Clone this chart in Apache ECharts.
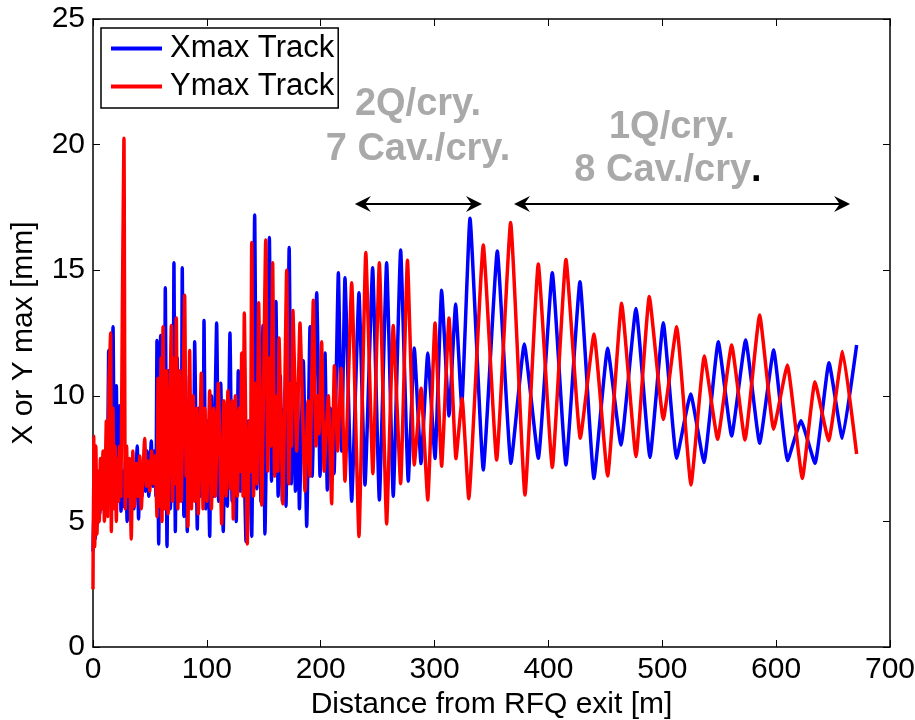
<!DOCTYPE html>
<html>
<head>
<meta charset="utf-8">
<script src="https://cdn.jsdelivr.net/npm/echarts@6/dist/echarts.min.js"></script>
<style>
  html, body { margin: 0; padding: 0; background: #fff; }
  #chart { width: 915px; height: 720px; }
</style>
</head>
<body>
<div id="chart"></div>
<script>
// x / y ticks
const xTicks = [0, 100, 200, 300, 400, 500, 600, 700];
const yTicks = [0, 5, 10, 15, 20, 25];

// [distance (m), Xmax (mm)]
const xmaxTrack = [
  [0,3.8],[1,6.2],[2,4.3],[3,6.6],[4,4.9],[5,6.0],[6,5.3],[7,6.8],[8,5.5],[9,7.4],[10,5.9],[11,7.0],
  [12.5,6.3],[13.8,11.8],[15,6.5],[16.2,9.5],[17.6,12.75],[18.8,6.0],[20.5,10.4],[21.7,5.8],[23.4,9.6],
  [24.6,5.4],[26,7.0],[27.2,5.6],[28.5,7.4],[30,5.0],[31.5,7.2],[33,5.8],[34.5,7.3],[36,5.5],[38.9,8.0],
  [40,5.1],[41.5,7.2],[43,6.0],[44.5,7.6],[46,6.2],[47.5,7.8],[49,6.0],[51.2,8.2],[52.5,6.4],[54,7.8],
  [55.3,6.0],[56.2,12.2],[57.7,4.1],[59.4,12.4],[60.5,5.5],[62,10.5],[62.8,7.0],[63.5,14.3],[65,4.0],
  [66.5,11.0],[68,5.5],[69.5,9.0],[70.3,7.0],[71.1,15.3],[72.3,4.6],[74,11.5],[75.5,5.8],[77,9.5],
  [77.7,7.5],[78.4,15.1],[79.8,5.2],[81.3,10.8],[82.8,4.6],[84.3,9.8],[85.8,5.6],[87.5,8.8],[88.4,7.0],
  [89.3,12.15],[91.6,4.7],[93,9.5],[94.5,6.0],[96,8.5],[96.8,7.2],[97.5,13.0],[99,5.5],[100.5,9.0],
  [102.5,4.4],[104,10.0],[105.8,6.0],[108.6,12.9],[110.4,5.8],[112.2,10.5],[114.4,4.6],[116.2,9.5],
  [118,5.6],[120.3,12.5],[122.2,5.8],[124,9.2],[125.8,5.0],[127.6,11.0],[129.4,6.2],[131.2,10.6],
  [134.4,4.2],[136.5,9.0],[139.4,4.4],[142,17.2],[143.8,6.3],[145.8,10.8],[147.5,5.8],[149.3,12.8],
  [151,4.5],[154.9,16.3],[156.8,6.6],[158.5,10.2],[159.5,8.0],[160.7,13.75],[162.6,6.0],[164.5,10.8],
  [166.3,5.8],[168,9.5],[169.5,5.6],[172.3,15.9],[174.2,6.5],[176,11.5],[177.8,6.2],[179.6,10.5],
  [181.3,5.5],[184.7,11.4],[187.7,4.8],[190.6,12.75],[192.5,6.8],[196.5,14.1],[199.4,6.8],[201.5,10.0],
  [202.6,8.0],[203.8,11.7],[205.8,6.25],[208.5,9.5],[211.7,6.9],[215.5,14.9],[218.4,7.8],[221.3,14.7],
  [227.2,5.8],[233.6,14.1],[238.9,6.45],[245.6,15.1],[251.5,5.85],[257.9,15.3],[263.7,6.0],[270.2,15.8],
  [276.9,6.6],[282.2,11.9],[288.1,7.3],[294,11.7],[300.4,7.5],[306.2,14.2],[312.7,9.2],[318.5,13.65],
  [323.8,9.6],[331.1,17.07],[342.8,7.05],[355.1,15.76],[367.1,7.31],[378.8,12.06],[391.1,7.51],
  [403.4,14.9],[415.4,7.25],[427.7,14.54],[440,6.71],[452,11.89],[463.7,8.04],[476.9,13.48],[489.2,7.54],
  [500.9,12.91],[512.6,7.51],[524.9,10.07],[536.6,7.34],[549.2,12.15],[560.9,8.4],[573.2,12.22],
  [585.5,8.11],[597.8,11.82],[610.1,7.42],[621.8,9.01],[634.1,7.31],[646.4,11.32],[658.1,8.31],[670.7,12.02]
];

// [distance (m), Ymax (mm)]
const ymaxTrack = [
  [0,2.3],[0.6,8.4],[1.5,4.0],[2.5,8.0],[3.5,4.5],[4.5,7.0],[5.5,5.0],[6.5,7.5],[7.5,5.5],[8.8,7.8],
  [10,5.0],[11.7,9.0],[12.8,5.2],[14,10.5],[15.5,12.5],[16.1,4.6],[17.5,9.5],[18.5,5.5],[19.5,8.0],
  [20.5,5.0],[21.5,7.5],[22.5,5.8],[23.5,8.0],[24.5,6.0],[25.8,13.5],[27.2,20.25],[28.3,5.5],[29.5,8.0],
  [30.5,6.0],[32,7.5],[33.6,4.3],[35,7.8],[36.5,5.6],[38,7.3],[39.5,6.0],[41,7.6],[42.4,5.5],[45.4,8.3],
  [47,6.4],[48.5,7.4],[49.8,6.2],[51.5,7.8],[53,6.5],[54.5,7.6],[56.2,5.2],[57.1,10.7],[58.2,5.6],
  [59.8,11.5],[60.6,5.0],[61.5,12.75],[63,5.5],[64.5,11.0],[66,5.3],[68.8,12.8],[70,5.8],[71.5,11.5],
  [72.5,6.5],[73.2,13.1],[74.5,5.5],[76,11.0],[77.5,5.8],[80.5,14.0],[81.8,6.8],[82.8,9.5],[83.4,4.8],
  [84.9,11.8],[86.5,5.5],[88,10.0],[89.5,5.8],[91,9.5],[92.5,5.3],[95.1,10.9],[96.7,5.5],[98.3,9.5],
  [100,5.8],[102.5,10.2],[104,5.5],[106,9.5],[107.5,6.0],[110,10.5],[113,4.9],[115,9.8],[116.8,6.0],
  [118.5,10.2],[120.5,6.3],[122,9.8],[123.2,5.1],[125,10.0],[126.8,6.0],[128.5,9.5],[129.5,7.0],
  [130.6,11.7],[131.8,6.0],[132.9,13.3],[135.5,4.1],[137.5,9.0],[138.4,7.0],[139.4,16.1],[141,6.0],
  [142.8,10.5],[144,6.5],[145.5,13.7],[148.2,5.65],[151.7,16.2],[153.5,7.0],[155,11.5],[156.2,8.0],
  [157.8,15.3],[159.5,6.8],[161.5,10.0],[162.4,7.0],[163.4,12.3],[166.8,5.7],[170.1,15.0],[172,6.5],
  [173.5,10.5],[174.3,8.0],[175.6,13.4],[178.9,7.8],[181.8,12.9],[186.2,6.2],[188.8,9.8],[190.5,6.8],
  [193.5,13.8],[195.9,8.0],[197.5,10.0],[198.5,8.5],[200.8,12.15],[203,7.0],[206.7,10.0],[209.6,5.7],
  [212,11.2],[214.9,7.8],[218,11.1],[221.3,6.6],[227.2,14.5],[233.6,4.4],[239.6,15.7],[245.8,6.9],
  [251.5,15.3],[257.9,4.9],[263.7,12.8],[270.2,6.5],[276.2,15.4],[282.2,7.25],[288.1,10.3],[294,5.85],
  [300.4,12.9],[306.2,7.2],[312.7,13.1],[318.8,7.5],[324.2,9.9],[330,5.9],[342.8,16.0],[354.5,7.44],
  [366.8,16.9],[379.4,6.05],[391.1,15.25],[403.4,7.15],[415.4,15.43],[428,8.31],[440,12.46],[452,6.81],
  [464.3,13.68],[476.9,7.58],[488.6,13.95],[500.9,9.06],[512.6,12.75],[525.2,6.45],[536.9,11.58],
  [548.6,8.27],[560.9,12.02],[572.6,8.24],[585.5,13.22],[597.8,8.67],[609.8,11.23],[623,6.71],
  [634.1,10.56],[646.1,8.21],[658.4,11.76],[670.7,7.68]
];

// section arrows [from, to] at height y (arrowhead centres)
const sectionArrows = [[237, 334.6], [376.8, 657.9]];
const arrowY = 17.64;

const FONT = "'Liberation Sans', Arial, sans-serif";
const arrowHead = 'path://M0,0 L10,20 L0,13 L-10,20 Z';
const GREY = '#a9a9a9';

const chart = echarts.init(document.getElementById('chart'));

const axisCommon = {
  type: 'value',
  splitLine: { show: false },
  axisLine: { show: true, onZero: false, lineStyle: { color: '#000', width: 1.5 } },
  axisTick: { show: true, inside: true, length: 7, lineStyle: { color: '#000', width: 1 } }
};

const option = {
  animation: false,
  backgroundColor: '#fff',
  grid: { left: 93, right: 25, top: 19, bottom: 73, containLabel: false, outerBoundsMode: 'none' },
  legend: {
    orient: 'vertical',
    left: 101, top: 28,
    padding: [5, 4, 6, 10],
    itemGap: 7,
    itemWidth: 51,
    itemHeight: 4,
    icon: 'rect',
    borderColor: '#000',
    borderWidth: 1.5,
    borderRadius: 0,
    backgroundColor: '#fff',
    textStyle: { fontFamily: FONT, fontSize: 31, color: '#000', padding: [0, 0, 0, 3] },
    data: ['Xmax Track', 'Ymax Track']
  },
  xAxis: [
    Object.assign({}, axisCommon, {
      min: xTicks[0], max: xTicks[xTicks.length - 1], interval: 100,
      name: 'Distance from RFQ exit [m]',
      nameLocation: 'middle', nameGap: 34,
      nameTextStyle: { fontFamily: FONT, fontSize: 30, color: '#000' },
      axisLabel: { margin: 8, fontFamily: FONT, fontSize: 30, color: '#000' }
    }),
    Object.assign({}, axisCommon, {
      position: 'top',
      min: xTicks[0], max: xTicks[xTicks.length - 1], interval: 100,
      axisLabel: { show: false }
    })
  ],
  yAxis: [
    Object.assign({}, axisCommon, {
      min: yTicks[0], max: yTicks[yTicks.length - 1], interval: 5,
      name: 'X or Y max [mm]',
      nameLocation: 'middle', nameGap: 54,
      nameTextStyle: { fontFamily: FONT, fontSize: 30, color: '#000' },
      axisLabel: { margin: 8, fontFamily: FONT, fontSize: 30, color: '#000' }
    }),
    Object.assign({}, axisCommon, {
      position: 'right',
      min: yTicks[0], max: yTicks[yTicks.length - 1], interval: 5,
      axisLabel: { show: false }
    })
  ],
  series: [
    {
      name: 'Xmax Track',
      type: 'line',
      data: xmaxTrack,
      symbol: 'none',
      smooth: 0.12,
      color: '#0000ff',
      lineStyle: { color: '#0000ff', width: 3.5, join: 'round' }
    },
    {
      name: 'Ymax Track',
      type: 'line',
      data: ymaxTrack,
      symbol: 'none',
      smooth: 0.12,
      color: '#ff0000',
      lineStyle: { color: '#ff0000', width: 3.5, join: 'round' },
      markLine: {
        silent: true,
        symbol: [arrowHead, arrowHead],
        symbolSize: [16, 16],
        label: { show: false },
        lineStyle: { color: '#000', width: 2, type: 'solid' },
        data: sectionArrows.map(a => [{ coord: [a[0], arrowY] }, { coord: [a[1], arrowY] }])
      },
      markPoint: {
        silent: true,
        symbol: 'rect',
        symbolSize: 1,
        itemStyle: { color: 'rgba(0,0,0,0)' },
        label: {
          show: true,
          position: 'inside',
          fontFamily: FONT,
          fontSize: 38,
          fontWeight: 'bold',
          color: GREY,
          formatter: p => p.name,
          rich: {
            g: { fontFamily: FONT, fontSize: 38, fontWeight: 'bold', color: GREY },
            k: { fontFamily: FONT, fontSize: 38, fontWeight: 'bold', color: '#000' }
          }
        },
        data: [
          { name: '2Q/cry.', coord: [285.4, 21.6] },
          { name: '7 Cav./cry.', coord: [285.4, 19.8] },
          { name: '1Q/cry.', coord: [508.5, 20.7] },
          { name: '{g|8 Cav./cry}{k|.}', coord: [505, 18.95] }
        ]
      }
    }
  ]
};

chart.setOption(option);
</script>
</body>
</html>
